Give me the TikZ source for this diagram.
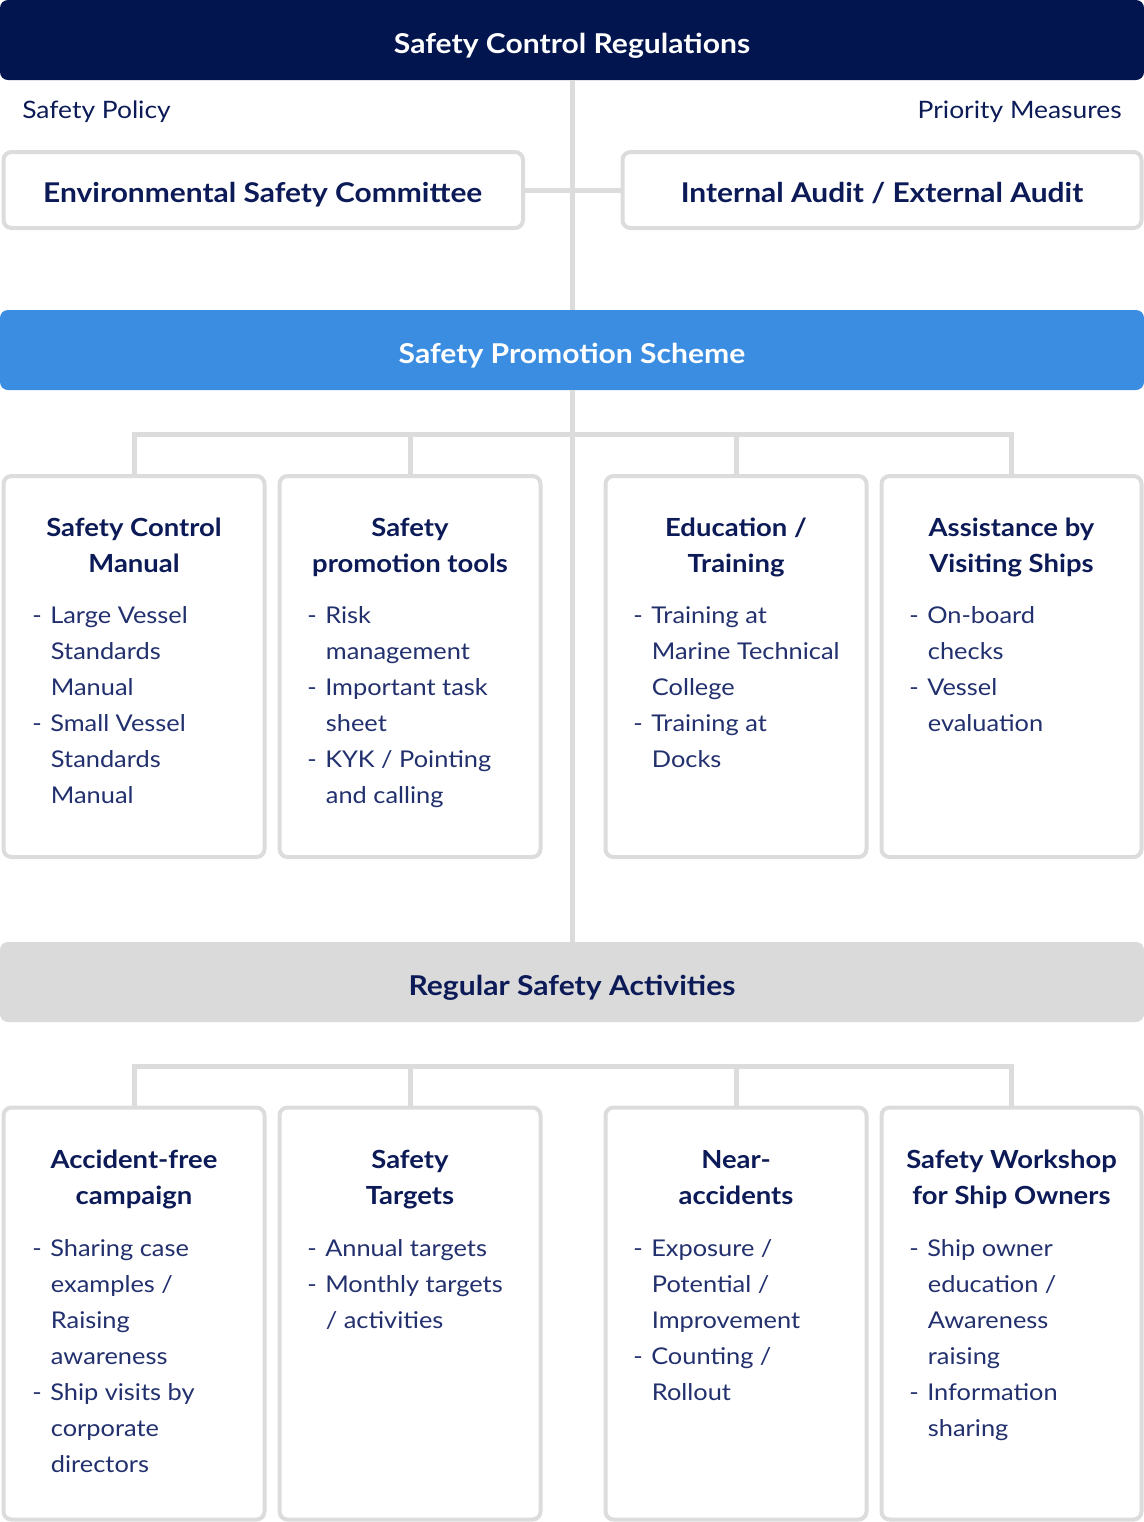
\documentclass[tikz,border=0pt]{standalone}
\usepackage{fontspec}
\setmainfont{Lato}[FakeStretch=1.1]
\usetikzlibrary{fit}
\definecolor{navy}{HTML}{03154F}
\definecolor{ink}{HTML}{0C1B57}
\definecolor{itemink}{HTML}{22306E}
\definecolor{lgray}{HTML}{DCDCDC}
\definecolor{bblue}{HTML}{3A8DE0}
\definecolor{bgray}{HTML}{DADADA}
\newcommand{\dl}{\makebox[13.5pt][l]{-}}
\newcommand{\cl}{\hspace*{14pt}}
\tikzset{
  bar/.style={rectangle, rounded corners=6pt, inner sep=0pt, outer sep=0pt, draw=none},
  bartext/.style={anchor=base, inner sep=0pt, font=\bfseries\fontsize{20.5}{26}\selectfont},
  box/.style={rectangle, rounded corners=6pt, inner sep=0pt, outer sep=0pt, draw=lgray, line width=3pt, fill=white},
  conn/.style={draw=lgray, line width=3.75pt},
  boxtitle/.style={anchor=base, align=center, text=ink, inner sep=0pt, font=\bfseries\fontsize{18.7}{27}\selectfont},
  items/.style={anchor=base west, align=left, text=itemink, inner sep=0pt, font=\fontsize{17.3}{27}\selectfont},
  side/.style={text=ink, inner sep=0pt, font=\fontsize{18}{27}\selectfont},
  midtitle/.style={anchor=base, text=ink, inner sep=0pt, font=\bfseries\fontsize{20.4}{27}\selectfont}
}
\begin{document}
\begin{tikzpicture}[x=0.75pt,y=-0.75pt]
\useasboundingbox (0,0) rectangle (1144,1522);
% bars
\node[bar, fill=navy, fit={(0,0)(1144,80)}] (scr) {};
\node[bar, fill=bblue, fit={(0,310)(1144,390)}] (sps) {};
\node[bar, fill=bgray, fit={(0,942)(1144,1022)}] (rsa) {};
\node[bartext, text=white] (scrt) at (572,53) {Safety Control Regulations};
\node[bartext, text=white] (spst) at (572,363) {Safety Promotion Scheme};
\node[bartext, text=ink] (rsat) at (572,995) {Regular Safety Activities};
% main connectors
\draw[conn] (scr.south) -- (sps.north);
\draw[conn] (sps.south) -- (rsa.north);
% top boxes
\node[box, fit={(3.5,152)(523,228)}] (esc) {};
\node[box, fit={(622.5,152)(1141.5,228)}] (aud) {};
\draw[conn] (esc.east) -- (aud.west);
\node[midtitle] (esct) at (262.75,202) {Environmental Safety Committee};
\node[midtitle] (audt) at (882,202) {Internal Audit / External Audit};
\node[side, anchor=base west] (pol) at (22,118) {Safety Policy};
\node[side, anchor=base east] (pri) at (1122,118) {Priority Measures};
% branch 1
\coordinate (j1) at (572,434);
\node[box, fit={(3.5,476)(264.5,857)}] (a1) {};
\node[box, fit={(279.5,476)(540.5,857)}] (a2) {};
\node[box, fit={(605.5,476)(866.5,857)}] (a3) {};
\node[box, fit={(881.5,476)(1141.5,857)}] (a4) {};
\draw[conn] (a1.north) |- (j1) -| (a4.north);
\draw[conn] (a2.north) -- (a2.north |- j1);
\draw[conn] (a3.north) -- (a3.north |- j1);
% multi-line nodes: base anchor = baseline of last line
\node[boxtitle] (a1t) at (134,572) {Safety Control\\Manual};
\node[boxtitle] (a2t) at (410,572) {Safety\\promotion tools};
\node[boxtitle] (a3t) at (736,572) {Education /\\Training};
\node[boxtitle] (a4t) at (1011.5,572) {Assistance by\\Visiting Ships};
\node[items] (a1i) at (32,803) {\dl Large Vessel\\\cl Standards\\\cl Manual\\\dl Small Vessel\\\cl Standards\\\cl Manual};
\node[items] (a2i) at (307,803) {\dl Risk\\\cl management\\\dl Important task\\\cl sheet\\\dl KYK / Pointing\\\cl and calling};
\node[items] (a3i) at (633,767) {\dl Training at\\\cl Marine Technical\\\cl College\\\dl Training at\\\cl Docks};
\node[items] (a4i) at (909,731) {\dl On-board\\\cl checks\\\dl Vessel\\\cl evaluation};
% branch 2
\coordinate (j2) at (572,1066);
\node[box, fit={(3.5,1107.5)(264.5,1519.5)}] (c1) {};
\node[box, fit={(279.5,1107.5)(540.5,1519.5)}] (c2) {};
\node[box, fit={(605.5,1107.5)(866.5,1519.5)}] (c3) {};
\node[box, fit={(881.5,1107.5)(1141.5,1519.5)}] (c4) {};
\draw[conn] (c1.north) |- (j2) -| (c4.north);
\draw[conn] (c2.north) -- (c2.north |- j2);
\draw[conn] (c3.north) -- (c3.north |- j2);
\node[boxtitle] (c1t) at (134,1204) {Accident-free\\campaign};
\node[boxtitle] (c2t) at (410,1204) {Safety\\Targets};
\node[boxtitle] (c3t) at (736,1204) {Near-\\accidents};
\node[boxtitle] (c4t) at (1011.5,1204) {Safety Workshop\\for Ship Owners};
\node[items] (c1i) at (32,1472) {\dl Sharing case\\\cl examples /\\\cl Raising\\\cl awareness\\\dl Ship visits by\\\cl corporate\\\cl directors};
\node[items] (c2i) at (307,1328) {\dl Annual targets\\\dl Monthly targets\\\cl / activities};
\node[items] (c3i) at (633,1400) {\dl Exposure /\\\cl Potential /\\\cl Improvement\\\dl Counting /\\\cl Rollout};
\node[items] (c4i) at (909,1436) {\dl Ship owner\\\cl education /\\\cl Awareness\\\cl raising\\\dl Information\\\cl sharing};
\end{tikzpicture}
\end{document}
